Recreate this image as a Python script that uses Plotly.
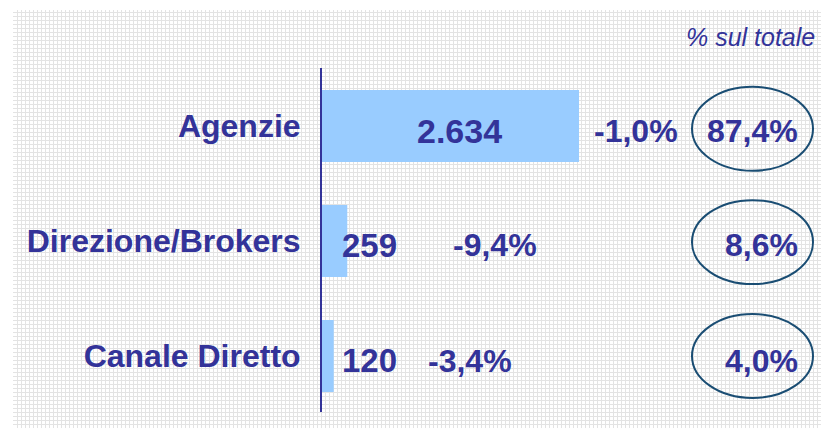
import plotly.graph_objects as go

# ---- data ----
categories = ["Agenzie", "Direzione/Brokers", "Canale Diretto"]
values = [2634, 259, 120]
growth_pct = [-1.0, -9.4, -3.4]
share_pct = [87.4, 8.6, 4.0]
share_title = "% sul totale"

# ---- style / layout constants (pixels) ----
W, H = 821, 428
TXT = "#333399"
BAR = "#99ccff"
ELL = "#1a4d73"
FONT = "Liberation Sans, Arial, sans-serif"

def px_x(p):
    return p / W

def fmt_int(v):
    return f"{v:,}".replace(",", ".")

def fmt_pct(v):
    return f"{v:.1f}".replace(".", ",") + "%"

value_pos = [(460, "center", 34), (340, "left", 33), (340, "left", 33)]
growth_left = [592, 451, 426]
share_right = 800
ell_x = (692, 813)
text_dy = [0.045, 0.035, 0.04]
ell_dy = [0.025, 0.01, 0.0]
ell_half = 0.365

fig = go.Figure()

# background pattern subplot (grid only)
fig.add_trace(go.Scatter(x=[None], y=[None], xaxis="x", yaxis="y",
                         showlegend=False, hoverinfo="skip"))

fig.add_trace(go.Bar(
    x=values, y=categories, orientation="h",
    marker=dict(color=BAR, line=dict(width=0)),
    width=0.626, xaxis="x2", yaxis="y2",
    showlegend=False, hoverinfo="skip",
))

annotations = []
for i, cat in enumerate(categories):
    xv, anc, fs = value_pos[i]
    annotations.append(dict(
        text=fmt_int(values[i]), xref="paper", x=px_x(xv), xanchor=anc,
        yref="y2", y=i + text_dy[i], yanchor="middle", showarrow=False,
        font=dict(family=FONT, size=fs, color=TXT, weight="bold")))
    annotations.append(dict(
        text=fmt_pct(growth_pct[i]), xref="paper", x=px_x(growth_left[i]),
        xanchor="left", yref="y2", y=i + text_dy[i], yanchor="middle",
        showarrow=False,
        font=dict(family=FONT, size=32, color=TXT, weight="bold")))
    annotations.append(dict(
        text=fmt_pct(share_pct[i]), xref="paper", x=px_x(share_right),
        xanchor="right", yref="y2", y=i + text_dy[i], yanchor="middle",
        showarrow=False,
        font=dict(family=FONT, size=32, color=TXT, weight="bold")))

annotations.append(dict(
    text=share_title, xref="paper", x=px_x(817), xanchor="right",
    yref="paper", y=1 - 37 / H, yanchor="middle", showarrow=False,
    font=dict(family=FONT, size=25, color=TXT, style="italic")))

shapes = []
for i in range(len(categories)):
    shapes.append(dict(
        type="circle", xref="paper", x0=px_x(ell_x[0]), x1=px_x(ell_x[1]),
        yref="y2", y0=i + ell_dy[i] - ell_half, y1=i + ell_dy[i] + ell_half,
        line=dict(color=ELL, width=2), layer="above"))

fig.update_layout(
    width=W, height=H, autosize=False,
    margin=dict(l=0, r=0, t=0, b=0, pad=0),
    paper_bgcolor="white", plot_bgcolor="rgba(0,0,0,0)",
    annotations=annotations, shapes=shapes,
    xaxis=dict(domain=[13 / W, 1], range=[0, W - 13], dtick=4,
               showgrid=True, gridcolor="#e3e3e3", gridwidth=1,
               showticklabels=False, zeroline=False, showline=False,
               ticks="", fixedrange=True),
    yaxis=dict(domain=[0, (H - 10) / H], range=[0, H - 10], dtick=4,
               showgrid=True, gridcolor="#e3e3e3", gridwidth=1,
               showticklabels=False, zeroline=False, showline=False,
               ticks="", fixedrange=True),
    xaxis2=dict(domain=[322 / W, 1], range=[0, 5114], anchor="y2",
                visible=False, fixedrange=True),
    yaxis2=dict(domain=[16 / H, 360 / H], range=[2.487, -0.504],
                anchor="x2", type="category",
                categoryorder="array", categoryarray=categories,
                showline=True, linecolor=TXT, linewidth=2,
                showgrid=False, zeroline=False, ticks="",
                ticklabelstandoff=13,
                tickfont=dict(family=FONT, size=32, color=TXT, weight="bold"),
                fixedrange=True),
)

fig.write_html(
    "out.html",
    config={"displayModeBar": False},
    post_script="document.body.style.margin='0';document.body.style.overflow='hidden';",
)
